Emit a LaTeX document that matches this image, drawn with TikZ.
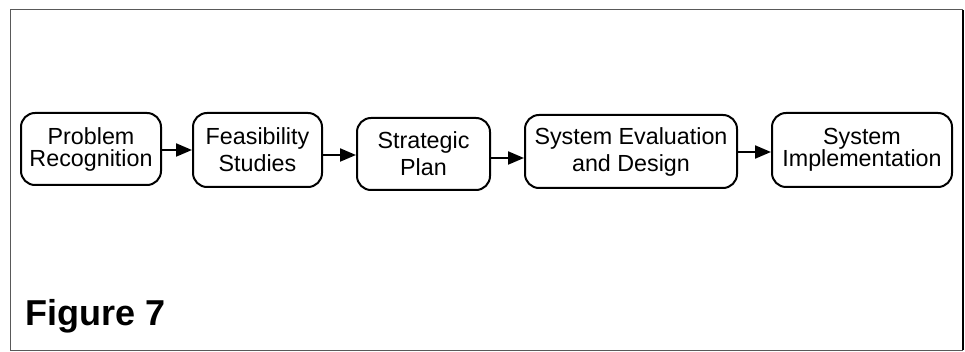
\documentclass[tikz,border=0pt]{standalone}
\usepackage{fontspec}
\setmainfont{Liberation Sans}
\usetikzlibrary{arrows.meta}
\begin{document}
\begin{tikzpicture}[x=1pt,y=-1pt,
  stage/.style={draw=black, line width=2pt, rounded corners=14pt, align=center, inner sep=0pt, font=\fontsize{23.3}{22}\selectfont},
  flow/.style={line width=2pt, -{Triangle[length=16pt,width=13pt]}}]
\useasboundingbox (0,0) rectangle (965,352);
\draw[gray!70!black, line width=1pt] (10,350) -- (10,10) -- (963,10);
\draw[gray!70!black, line width=1pt] (10,350) -- (963,350);
\draw[black, line width=2pt] (963,10) -- (963,350);
\node[stage, minimum width=140pt, minimum height=72pt] (b1) at (91,149) {Problem\\Recognition};
\node[stage, minimum width=129pt, minimum height=74pt, font=\fontsize{23.3}{27}\selectfont] (b2) at (257.5,150) {Feasibility\\Studies};
\node[stage, minimum width=133pt, minimum height=72pt, font=\fontsize{23.3}{27}\selectfont] (b3) at (423.5,154) {Strategic\\Plan};
\node[stage, minimum width=212pt, minimum height=73pt, font=\fontsize{23.3}{27}\selectfont] (b4) at (631,151.5) {System Evaluation\\and Design};
\node[stage, minimum width=180pt, minimum height=74pt] (b5) at (862,150) {System\\Implementation};
\draw[flow] (b1.east |- 0,150) -- (b2.west |- 0,150);
\draw[flow] (b2.east |- 0,155) -- (b3.west |- 0,155);
\draw[flow] (b3.east |- 0,158) -- (b4.west |- 0,158);
\draw[flow] (b4.east |- 0,152) -- (b5.west |- 0,152);
\node[anchor=base west, inner sep=0pt, font=\fontsize{36}{40}\selectfont\bfseries] (fig) at (25,325) {Figure 7};
\end{tikzpicture}
\end{document}
